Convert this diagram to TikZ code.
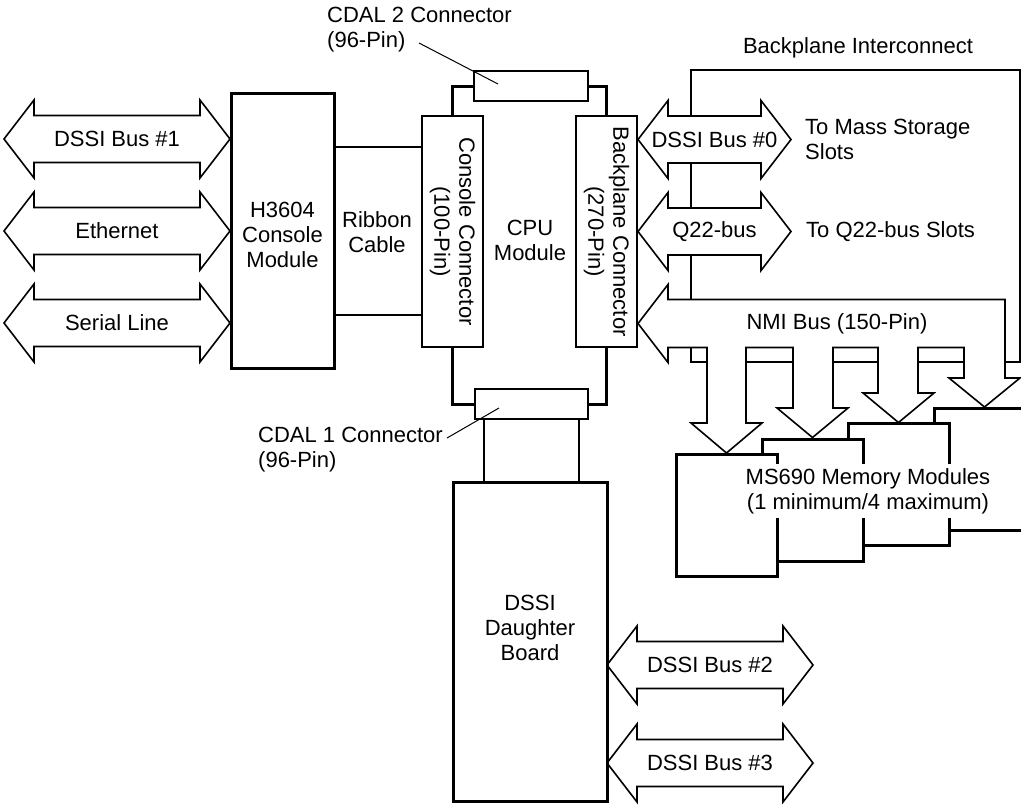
\documentclass[tikz,border=0pt]{standalone}
\usepackage{fontspec}
\setmainfont{Liberation Sans}
\usetikzlibrary{calc}
\newcommand\myfs{\fontsize{22}{25}\selectfont}
\tikzset{
  lbl/.style={font=\myfs, align=center, inner sep=0pt},
  lblL/.style={font=\myfs, align=left, inner sep=0pt},
  boxthick/.style={draw, line width=3pt, outer sep=0pt, inner sep=0pt, fill=white},
  boxmid/.style={draw, line width=2pt, outer sep=0pt, inner sep=0pt, fill=white},
  wire/.style={line width=2pt},
  cpuline/.style={line width=3pt},
  busline/.style={draw, line width=1.6pt, fill=white, line join=miter},
  leader/.style={line width=1pt},
}
\newcommand\busarrow[5]{%
  \draw[busline] (#1,#3) -- (#1+30,#3-39) -- (#1+30,#3-23.5) -- (#2-30,#3-23.5) -- (#2-30,#3-39) -- (#2,#3) -- (#2-30,#3+39) -- (#2-30,#3+23.5) -- (#1+30,#3+23.5) -- (#1+30,#3+39) -- cycle;
  \node[lbl] (#4) at ({(#1+#2)/2},#3) {#5};}
\begin{document}
\begin{tikzpicture}[x=1pt,y=-1pt]
\path[use as bounding box] (0,0) rectangle (1021,804);
\clip (0,0) rectangle (1021,804);

% backplane interconnect
\draw[wire] (691,70) rectangle (1020,362);

% NMI bus with four branches
\draw[busline] (638,323.5) -- (668,284.5) -- (668,299.5) -- (1005,299.5) -- (1005,378) -- (1020,378)
  -- (984.5,407) -- (949,378) -- (964,378) -- (964,347.5) -- (918,347.5) -- (918,393) -- (934,393)
  -- (898.5,422.5) -- (863,393) -- (878,393) -- (878,347.5) -- (833,347.5) -- (833,408) -- (848,408)
  -- (812.5,437.5) -- (777,408) -- (793,408) -- (793,347.5) -- (746,347.5) -- (746,423) -- (762,423)
  -- (726.5,453) -- (691,423) -- (707,423) -- (707,347.5) -- (668,347.5) -- (668,362.5) -- cycle;
\node[lbl] (nmi) at (837,323.5) {NMI Bus (150-Pin)};

% bus arrows
\busarrow{4}{230}{139}{bus1}{DSSI Bus \#1}
\busarrow{4}{230}{231}{eth}{Ethernet}
\busarrow{4}{230}{323}{serial}{Serial Line}
\busarrow{638}{791}{139.5}{bus0}{DSSI Bus \#0}
\busarrow{638}{791}{231.5}{q22}{Q22-bus}
\busarrow{607}{813}{665}{bus2}{DSSI Bus \#2}
\busarrow{607}{813}{763}{bus3}{DSSI Bus \#3}

% memory modules
\node[boxthick, minimum width=101pt, minimum height=122.5pt, anchor=north west] (m4) at (934,408) {};
\node[boxthick, minimum width=101pt, minimum height=122.5pt, anchor=north west] (m3) at (848,423) {};
\node[boxthick, minimum width=101pt, minimum height=122.5pt, anchor=north west] (m2) at (762,439) {};
\node[boxthick, minimum width=101pt, minimum height=122.5pt, anchor=north west] (m1) at (676,454) {};
\node[lbl, fill=white, inner sep=4pt] (memlbl) at (868,491) {MS690 Memory Modules\\(1 minimum/4 maximum)};

% labels right
\node[lbl] (bpi) at (858,48) {Backplane Interconnect};
\node[lblL, anchor=west] (tomass) at (805,139.5) {To Mass Storage\\Slots};
\node[lblL, anchor=west] (toq22) at (806,232) {To Q22-bus Slots};

% console module
\node[boxthick, minimum width=103pt, minimum height=275pt] (h3604) at (282.5,230.5) {};
\node[lbl] (h3604t) at (282.5,235) {H3604\\Console\\Module};
\node[lbl] (ribbon) at (377,232.5) {Ribbon\\Cable};

% CPU module
\node[boxmid, minimum width=61pt, minimum height=231pt] (console) at (452.5,231.5) {};
\node[lbl, rotate=-90] (consolet) at (452.5,231.5) {Console Connector\\(100-Pin)};
\node[boxmid, minimum width=61pt, minimum height=231pt] (backplane) at (606.5,231.5) {};
\node[lbl, rotate=-90] (backplanet) at (606.5,231.5) {Backplane Connector\\(270-Pin)};
\node[boxmid, minimum width=114pt, minimum height=30pt] (cdal2) at (531,86) {};
\node[boxmid, minimum width=113pt, minimum height=30pt] (cdal1) at (531.5,404) {};
\draw[cpuline] (console.north) |- (cdal2.west);
\draw[cpuline] (cdal2.east) -| (backplane.north);
\draw[cpuline] (console.south) |- (cdal1.west);
\draw[cpuline] (cdal1.east) -| (backplane.south);
\node[lbl] (cpu) at (530,240) {CPU\\Module};

% ribbon cable
\draw[wire] ($(h3604.north east)+(0,54)$) -- ($(console.north west)+(0,31)$);
\draw[wire] ($(h3604.north east)+(0,222)$) -- ($(console.north west)+(0,199)$);

% daughter board
\node[boxthick, minimum width=154pt, minimum height=319pt, anchor=north west] (daughter) at (453,482) {};
\node[lbl] (dt) at (530,628) {DSSI\\Daughter\\Board};
\draw[wire] ($(cdal1.south west)+(9,0)$) -- ($(daughter.north west)+(31,0)$);
\draw[wire] ($(cdal1.south east)+(-9,0)$) -- ($(daughter.north west)+(126,0)$);

% connector labels
\node[lblL, anchor=west] (cdal2t) at (327,30) {CDAL 2 Connector\\(96-Pin)};
\coordinate (l2s) at (419,43);
\draw[leader] (l2s) -- ($(cdal2.center)+(-33,-2)$);
\node[lblL, anchor=west] (cdal1t) at (258,450) {CDAL 1 Connector\\(96-Pin)};
\coordinate (l1s) at (447,438);
\draw[leader] (l1s) -- ($(cdal1.center)+(-32.5,4)$);
\end{tikzpicture}
\end{document}
